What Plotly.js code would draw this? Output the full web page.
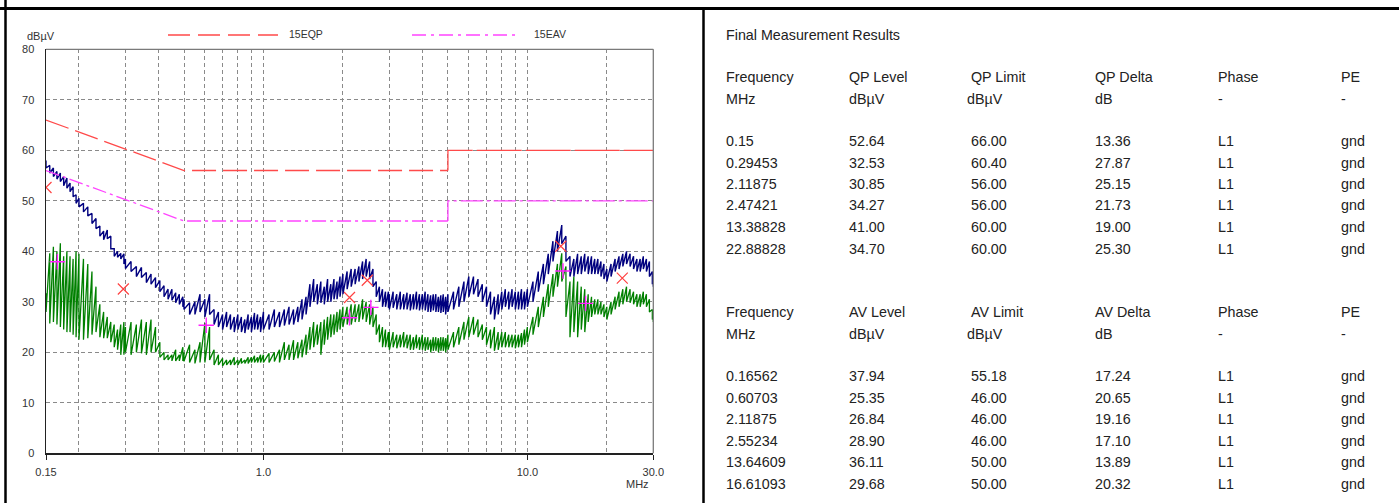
<!DOCTYPE html>
<html>
<head>
<meta charset="utf-8">
<script src="https://cdn.plot.ly/plotly-3.0.1.min.js"></script>
<style>
html,body{margin:0;padding:0;background:#fff;}
#chart{width:1399px;height:503px;}
</style>
</head>
<body>
<div id="chart"></div>
<script>
// ---------- DATA ----------
// sweep frequencies (MHz)
const freq = [
0.150,0.155,0.160,0.165,0.170,0.175,0.180,0.185,0.190,0.195,
0.200,0.208,0.216,0.224,0.232,0.240,0.248,0.256,0.264,0.272,0.280,0.288,0.296,
0.300,0.315,0.330,0.345,0.360,0.375,0.390,0.405,0.420,0.435,0.450,0.465,0.480,0.495,
0.500,0.525,0.550,0.575,0.600,0.625,0.650,0.675,0.700,0.725,0.750,0.775,0.800,0.825,0.850,0.875,0.900,0.925,0.950,0.975,
1.00,1.05,1.10,1.15,1.20,1.25,1.30,1.35,1.40,1.45,1.50,1.55,1.60,1.65,1.70,1.75,1.80,1.85,1.90,1.95,
2.000,2.075,2.150,2.225,2.300,2.375,2.450,2.525,2.600,2.675,2.750,2.825,2.900,2.975,
3.0,3.1,3.2,3.3,3.4,3.5,3.6,3.7,3.8,3.9,4.0,4.1,4.2,4.3,4.4,4.5,4.6,4.7,4.8,4.9,
5.00,5.25,5.50,5.75,6.00,6.25,6.50,6.75,7.00,7.25,7.50,7.75,8.00,8.25,8.50,8.75,9.00,9.25,9.50,9.75,
10.0,10.5,11.0,11.5,12.0,12.5,13.0,13.5,14.0,14.5,15.0,15.5,16.0,16.5,17.0,17.5,18.0,18.5,19.0,19.5,
20.00,20.75,21.50,22.25,23.00,23.75,24.50,25.25,26.00,26.75,27.50,28.25,29.00,29.75,30.0
];
// QP (peak) trace: upper / lower edge of the noisy trace (dBµV)
const qpHi = [
58,57,56.5,55.8,55.5,54.8,54.5,53.5,52.8,51.2,
50.5,49.5,48.8,47.5,46.5,45,44,44.2,43,40.5,40,39.6,39.5,
38.5,38,37,36.8,35.8,35.5,34.8,34.2,33.2,32.5,32.5,31.8,31.5,31,
30.5,29.8,30,31.5,30.5,31.5,28.5,28,27.5,28,27.5,27,27.5,27,26.5,27.5,27,27.8,27.5,27,
28,27.5,28.5,28,28.5,29,28.5,29,30.5,31,33.5,34.5,33.5,34,33,34.5,33.5,34.5,34,35,
35.5,36,36.5,36.5,37,38,38.5,38,36.5,34,33,32.5,32,32,
31.5,32,31.5,32,31.5,31.8,31.5,31.5,32,31.5,31.5,32,31.5,31.3,31.5,31.5,31,31.3,31.5,31,
31.5,32,33,34,35,35,34.5,33.5,33,32,31,31.5,32,32.5,32,32.5,32,32,32.5,32,
32.5,34,36,37.5,39.5,42,44,45.2,43,39,38.5,39.5,39,39.5,39,39,38.5,38.5,38,37.5,
36.5,37.5,38.5,39,39.5,40,39.5,39,38.5,38.5,39,38.5,38,36,35
];
const qpLo = [
56.5,55.5,54.8,54.3,53.8,53,52.5,51.8,50.8,49.5,
48.8,47.8,47,45.5,44.5,43,42.3,42.5,40.5,39,38.8,38.5,37.5,
36.6,36,35,34.8,33.8,33.5,32.8,32,31,30.5,30.3,29.8,29.5,29,
28.5,27.5,27.5,28,27,27.5,25.5,25,24.5,25,24.5,24,24.5,24,23.8,24.5,24,24.5,24.5,24,
24.5,24.5,25,25,25.3,25.5,25.5,26,26.5,27.5,29,30,29.5,29.8,29.5,30,30,30.5,30.5,31,
31.5,32.5,33,33.5,34,34.5,35,34.5,33,31,30,29,29,28.8,
28.5,28.8,28.5,28.5,28.5,28.5,28.3,28.5,28.5,28.3,28.5,28.3,28,28,28.3,28,28,27.8,28,27.5,
28,28.5,29,30,31,31.5,31,30,29,27.5,26.5,27.5,28.5,29,28.5,29,28.5,28.5,28.5,28.5,
29,30,32,33.5,35.5,38,40,41.5,38,35,35,35.5,35.5,36,35.5,35.5,35.5,35.5,35,34.5,
34,35,36,36.5,37,37.5,37,36.5,36,36,36.5,36,35,33.5,33
];
// AV trace: upper / lower edge (dBµV)
const avHi = [
31.7,39.6,40.9,40,41.6,39,40,39,38.5,40,
39.5,38.5,37.5,36,33,29.5,28,27,26,25.5,24.5,25.5,26,
25,26,25.5,26.5,26,26.5,25,22,20,19.5,19.5,20.5,19.5,21,
20,21.5,20.5,22,25.8,25,20.5,19.5,18.8,18.5,18.5,19,18.5,18.8,18.5,19,19,19.3,19,19.5,
19.5,19.8,20,20.5,22,21.5,22.4,22,22.5,23.5,25,26,25.5,26,26.5,27,27.5,27.5,28,28.5,
29,29,29.5,29.5,29.5,30.5,30,29.5,29,27.5,25.5,25,24.5,24,
24,24,23.5,23.5,24,23.5,23.5,23,23.5,23,23.5,23,23,22.5,23,23,22.8,23,23,22.8,
23.5,24,25,26,27,27,26.5,25.5,25,24.5,25,24,24,24,23.5,23.5,23.5,23.5,23.8,24.5,
25,27,29,31,33.5,35.5,37.5,39.6,37,34,35,34,33,32.5,31.5,31,30.5,30.5,30,29.5,
29,30,31,32,32.5,33,32.5,32,31.5,31.5,32,31.5,30.5,28.5,27
];
const avLo = [
28,25.7,26,25.5,25,24.5,24,24,23.5,23,
22.5,22.5,22.8,23.5,24,23,22.8,22.8,22,21,20.5,19.5,19.5,
20,19.5,20,19.8,19.5,20,20,19,18.5,18.5,18.3,18.3,18.3,18.3,
18.2,18,17.8,18,18,18.5,17.5,17.5,17.3,17.5,17.5,17.5,17.5,17.8,17.8,17.8,18,18,18,18,
18,18,18.2,18,18.5,18.5,18.5,18.8,19,19.5,20.5,21,21.5,19.5,21.5,22.5,23,23.5,24,24.5,
25,25.5,25.5,26,26,26.5,26,25.5,25,23.5,22,21,21,21,
20.5,21,20.8,21,21,20.8,20.5,20.5,20.8,20.5,20.5,20.3,20.5,20,20.3,20.3,20,20.3,20.3,20,
20.5,21,21.5,22.5,23,23.5,23,22.5,21.5,20.8,20.3,20.5,21,21,21,21,20.8,21,21,21.5,
22,23.5,25,27,29,31,33,34,27,23,24,23,24.5,24,26,27,27.5,27.5,27.5,27,
26.5,27.5,28.5,29,29.5,30,29.8,29.5,29,29,29.5,29,28,26.5,26
];
// limit lines (index 0-2: 0.15-5 MHz part, index 3-4: 5-30 MHz part)
const qpLimitF = [0.15, 0.5, 5, 5, 30];
const qpLimitV = [66, 56, 56, 60, 60];
const avLimitF = [0.15, 0.5, 5, 5, 30];
const avLimitV = [56, 46, 46, 50, 50];
// final measurement results
const qpFreq  = [0.15, 0.29453, 2.11875, 2.47421, 13.38828, 22.88828];
const qpLevel = [52.64, 32.53, 30.85, 34.27, 41.00, 34.70];
const qpLimit = [66.00, 60.40, 56.00, 56.00, 60.00, 60.00];
const qpDelta = [13.36, 27.87, 25.15, 21.73, 19.00, 25.30];
const avFreq  = [0.16562, 0.60703, 2.11875, 2.55234, 13.64609, 16.61093];
const avLevel = [37.94, 25.35, 26.84, 28.90, 36.11, 29.68];
const avLimit = [55.18, 46.00, 46.00, 46.00, 50.00, 50.00];
const avDelta = [17.24, 20.65, 19.16, 17.10, 13.89, 20.32];
const phase = ['L1','L1','L1','L1','L1','L1'];
const pe = ['gnd','gnd','gnd','gnd','gnd','gnd'];
// tick labels
const xTickVals = [0.15, 1, 10, 30];
const xTickText = ['0.15', '1.0', '10.0', '30.0'];
const xMinorVals = [0.2,0.3,0.4,0.5,0.6,0.7,0.8,0.9,2,3,4,5,6,7,8,9,20];
const yTickVals = [0,10,20,30,40,50,60,70,80];

// ---------- LAYOUT HELPERS ----------
const W = 1399, H = 503;
const px = X => X / W;
const py = Y => 1 - Y / H;
const FONT = 'Liberation Sans, Arial, sans-serif';

function zig(f, hi, lo) {
  const x = [], y = [];
  for (let i = 0; i < f.length; i++) { x.push(f[i], f[i]); y.push(hi[i], lo[i]); }
  return {x, y};
}
const av = zig(freq, avHi, avLo);
const qp = zig(freq, qpHi, qpLo);

const RED = '#ff4a4a', MAG = '#ff44ff';
const traces = [
  {x: av.x, y: av.y, type: 'scatter', mode: 'lines', line: {color: '#008000', width: 1.3}, hoverinfo: 'skip'},
  {x: qp.x, y: qp.y, type: 'scatter', mode: 'lines', line: {color: '#00007f', width: 1.4}, hoverinfo: 'skip'},
  {x: qpLimitF.slice(0, 3), y: qpLimitV.slice(0, 3), type: 'scatter', mode: 'lines', line: {color: RED, width: 1.3, dash: '24px,7px'}},
  {x: qpLimitF.slice(2), y: qpLimitV.slice(2), type: 'scatter', mode: 'lines', line: {color: RED, width: 1.3, dash: '45px,4px'}},
  {x: avLimitF.slice(0, 3), y: avLimitV.slice(0, 3), type: 'scatter', mode: 'lines', line: {color: MAG, width: 1.3, dash: '14px,4px,3px,4px'}},
  {x: avLimitF.slice(2), y: avLimitV.slice(2), type: 'scatter', mode: 'lines', line: {color: MAG, width: 1.3, dash: '22px,4px,3px,4px'}},
  {x: qpFreq, y: qpLevel, type: 'scatter', mode: 'markers',
   marker: {symbol: 'x-thin', size: 11, color: '#ff4040', line: {color: '#ff4040', width: 1.2}}},
  {x: avFreq, y: avLevel, type: 'scatter', mode: 'markers',
   marker: {symbol: 'cross-thin', size: 11, color: '#ff20ff', line: {color: '#ff20ff', width: 1.4}}}
];

const gridStyle = {gridcolor: '#8a8a8a', griddash: '4px,3px', gridwidth: 1};

const annotations = [];
function txt(X, Y, text, size, anchor, color) {
  annotations.push({xref: 'paper', yref: 'paper', x: px(X), y: py(Y), text: text, showarrow: false,
    xanchor: anchor || 'left', yanchor: 'middle', font: {family: FONT, size: size, color: color || '#222'},
    borderpad: 0});
}
// chart texts
txt(26, 36.5, 'dBµV', 11, 'left', '#333');
txt(637.5, 483.5, 'MHz', 11, 'center', '#333');
txt(288, 34, '15EQP', 10.5, 'left', '#333');
txt(533, 34, '15EAV', 10.5, 'left', '#333');

// table
const colX = [725, 848, 966, 1094, 1217, 1340];
const limShift = 4;
txt(725, 35, 'Final Measurement Results', 14.3);
function table(yHead, heads, limits, freqs, levels, deltas) {
  const units = ['MHz', 'dBµV', 'dBµV', 'dB', '-', '-'];
  heads.forEach((h, j) => txt(colX[j] + (j === 2 ? limShift : 0), yHead, h, 14.3));
  units.forEach((u, j) => txt(colX[j], yHead + 22, u, 14.3));
  const y0 = yHead + 64, step = 21.5;
  for (let i = 0; i < freqs.length; i++) {
    const y = y0 + i * step;
    txt(colX[0], y, String(freqs[i]), 14.3);
    txt(colX[1], y, levels[i].toFixed(2), 14.3);
    txt(colX[2] + limShift, y, limits[i].toFixed(2), 14.3);
    txt(colX[3], y, deltas[i].toFixed(2), 14.3);
    txt(colX[4], y, phase[i], 14.3);
    txt(colX[5], y, pe[i], 14.3);
  }
}
table(77, ['Frequency', 'QP Level', 'QP Limit', 'QP Delta', 'Phase', 'PE'], qpLimit, qpFreq, qpLevel, qpDelta);
table(312, ['Frequency', 'AV Level', 'AV Limit', 'AV Delta', 'Phase', 'PE'], avLimit, avFreq, avLevel, avDelta);

const shapes = [
  // plot frame (top/right grey)
  {type: 'line', xref: 'paper', yref: 'paper', x0: px(46), x1: px(653.3), y0: py(49.3), y1: py(49.3), line: {color: '#7a7a7a', width: 1.3}},
  {type: 'line', xref: 'paper', yref: 'paper', x0: px(653.3), x1: px(653.3), y0: py(49.3), y1: py(453.3), line: {color: '#7a7a7a', width: 1.3}},
  // page borders
  {type: 'line', xref: 'paper', yref: 'paper', x0: px(5.5), x1: px(5.5), y0: py(0), y1: py(503), line: {color: '#000', width: 2.5}},
  {type: 'line', xref: 'paper', yref: 'paper', x0: px(0), x1: px(1399), y0: py(8.5), y1: py(8.5), line: {color: '#000', width: 3}},
  {type: 'line', xref: 'paper', yref: 'paper', x0: px(703.5), x1: px(703.5), y0: py(8.5), y1: py(503), line: {color: '#000', width: 2.5}},
  // legend keys
  {type: 'line', xref: 'paper', yref: 'paper', x0: px(168), x1: px(278), y0: py(35), y1: py(35), line: {color: RED, width: 1.3, dash: '22px,8px'}},
  {type: 'line', xref: 'paper', yref: 'paper', x0: px(412), x1: px(515), y0: py(35), y1: py(35), line: {color: MAG, width: 1.3, dash: '14px,5px,3px,5px'}}
];

const layout = {
  width: W, height: H,
  margin: {l: 0, r: 0, t: 0, b: 0, pad: 0},
  paper_bgcolor: '#fff', plot_bgcolor: '#fff',
  showlegend: false,
  font: {family: FONT, size: 11, color: '#333'},
  xaxis: Object.assign({
    type: 'log', domain: [px(46), px(653.3)],
    range: [Math.log10(0.15), Math.log10(30)],
    showline: true, linecolor: '#222', linewidth: 1.5,
    ticks: 'outside', ticklen: 5, tickcolor: '#222', tickwidth: 1,
    tickmode: 'array', tickvals: xTickVals, ticktext: xTickText,
    tickfont: {family: FONT, size: 11, color: '#333'}, ticklabelstandoff: 3,
    showgrid: true, zeroline: false, automargin: false, fixedrange: true,
    minor: Object.assign({tickmode: 'array', tickvals: xMinorVals, showgrid: true, ticks: ''}, gridStyle)
  }, gridStyle),
  yaxis: Object.assign({
    domain: [py(453.3), py(49.3)], range: [0, 80],
    tickmode: 'array', tickvals: yTickVals,
    showline: true, linecolor: '#222', linewidth: 1.5, ticks: '',
    tickfont: {family: FONT, size: 11, color: '#333'}, ticklabelstandoff: 8,
    showgrid: true, zeroline: false, automargin: false, fixedrange: true
  }, gridStyle),
  shapes: shapes,
  annotations: annotations
};

Plotly.newPlot('chart', traces, layout, {staticPlot: true, displayModeBar: false});
</script>
</body>
</html>
